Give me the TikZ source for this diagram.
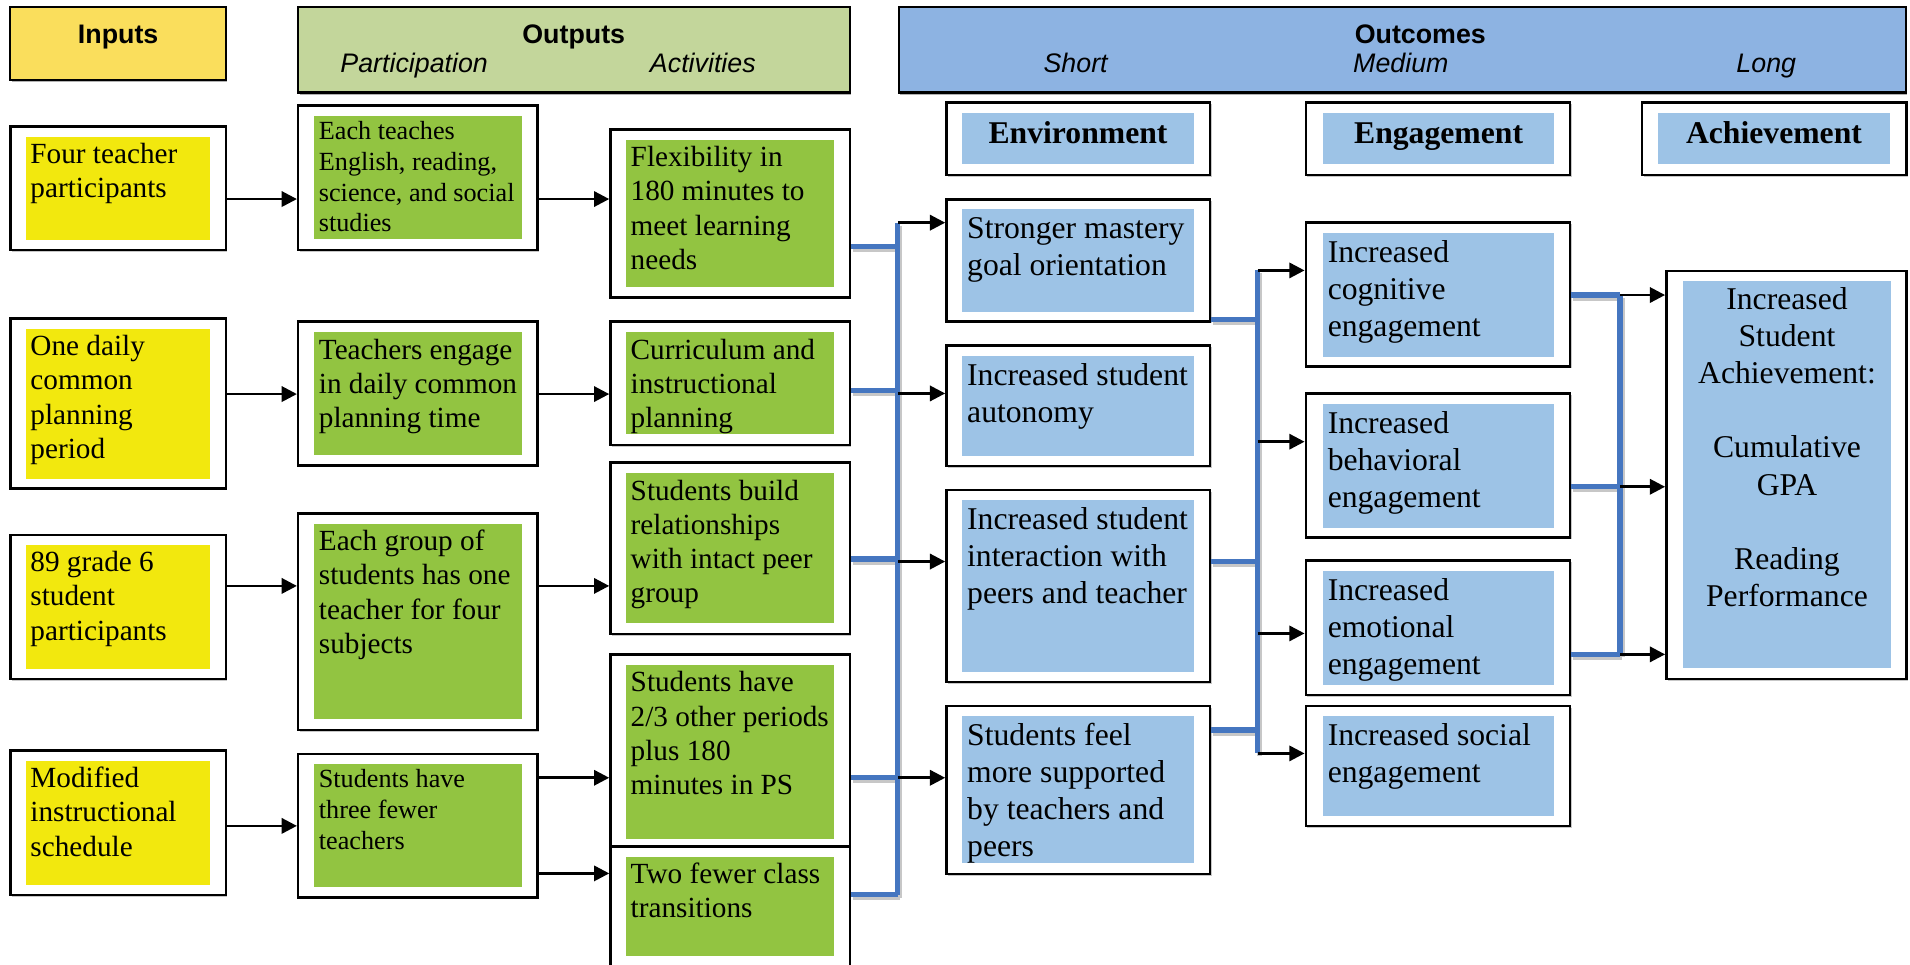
\documentclass[tikz,border=0pt]{standalone}
\usepackage{fontspec}
\setmainfont{Liberation Serif}
\setsansfont{Liberation Sans}
\usetikzlibrary{arrows.meta,calc,shadows}
\definecolor{hyel}{HTML}{FADE5C}
\definecolor{hgrn}{HTML}{C3D69B}
\definecolor{hblu}{HTML}{8DB3E2}
\definecolor{iyel}{HTML}{F2E80E}
\definecolor{igrn}{HTML}{92C441}
\definecolor{iblu}{HTML}{9DC3E6}
\definecolor{busc}{HTML}{4576C0}
\newcommand\obox[6][outerbox]{\node[#1, minimum width={(#5-#3)*1pt}, minimum height={(#6-#4)*1pt}] (#2) at ({(#3+#5)/2},{(#4+#6)/2}) {};}
\newcommand\btxt[5]{\node[#1, anchor=north west] (#2) at (#3,#4) {\strut#5};}
\newcommand\buspaths[1]{%
  \draw[#1] (a1.east |- 0,202.5) -- (bA |- 0,202.5);
  \draw[#1] (a2.east |- 0,320.7) -- (bA |- 0,320.7);
  \draw[#1] (a3.east |- 0,459) -- (bA |- 0,459);
  \draw[#1] (a4.east |- 0,638.5) -- (bA |- 0,638.5);
  \draw[#1] (a5.east |- 0,734.5) -- (bB);
  \draw[#1] (bA) -- (bB);
  \draw[#1] (e1.east |- 0,262.2) -- (cA |- 0,262.2);
  \draw[#1] (e3.east |- 0,461) -- (cA |- 0,461);
  \draw[#1] (e4.east |- 0,599.4) -- (cA |- 0,599.4);
  \draw[#1] (cA) -- (cB);
  \draw[#1] (g1.east |- dA) -- (dA);
  \draw[#1] (g2.east |- 0,399.6) -- (dA |- 0,399.6);
  \draw[#1] (g3.east |- dB) -- (dB);
  \draw[#1] (dA) -- (dB);
}
\tikzset{
  outerbox/.style={draw=black, line width=2.1pt, fill=white, inner sep=0pt,
    drop shadow={shadow xshift=1.2pt, shadow yshift=-1.4pt, fill=black!22, opacity=1}},
  headbox/.style={draw=black, line width=1.8pt, fill=#1, inner sep=0pt,
    drop shadow={shadow xshift=1.2pt, shadow yshift=-1.8pt, fill=black!30, opacity=1}},
  inbox/.style={fill=#1, draw=none, inner sep=0pt, outer sep=0pt},
  tgreen/.style={font=\fontsize{24}{28}\selectfont, align=left, inner sep=0pt},
  tsmall/.style={font=\fontsize{21.5}{25.2}\selectfont, align=left, inner sep=0pt},
  tblue/.style={font=\fontsize{26}{30.5}\selectfont, align=left, inner sep=0pt},
  thead/.style={font=\fontsize{26}{30}\selectfont\bfseries, inner sep=0pt, anchor=base},
  tsans/.style={font=\sffamily\fontsize{22}{26}\selectfont, inner sep=0pt, anchor=base},
  arr/.style={draw=black, line width=2.2pt, -{Triangle[length=12.5pt,width=12.5pt]}},
  bus/.style={draw=busc, line width=4.4pt},
  busshadow/.style={draw=black!22, line width=4.4pt},
}
\begin{document}
\begin{tikzpicture}[x=1pt,y=-1pt]
\useasboundingbox[fill=white] (0,0) rectangle (1568,792);

% ---------- header bars ----------
\obox[headbox=hyel]{hin}{8.5}{5.5}{185.5}{65.7}
\obox[headbox=hgrn]{hout}{244.8}{5.5}{697.8}{76}
\obox[headbox=hblu]{hoc}{738}{5.5}{1564.5}{76}
\node[tsans, font=\sffamily\bfseries\fontsize{22}{26}\selectfont] (tin) at (97,35.5) {Inputs};
\node[tsans, font=\sffamily\bfseries\fontsize{22}{26}\selectfont] (tout) at (471,35.5) {Outputs};
\node[tsans, font=\sffamily\itshape\fontsize{22}{26}\selectfont] (tpart) at (340,59.5) {Participation};
\node[tsans, font=\sffamily\itshape\fontsize{22}{26}\selectfont] (tact) at (577,59.5) {Activities};
\node[tsans, font=\sffamily\bfseries\fontsize{22}{26}\selectfont] (toc) at (1166,35.5) {Outcomes};
\node[tsans, font=\sffamily\itshape\fontsize{22}{26}\selectfont] (tshort) at (883,59.5) {Short};
\node[tsans, font=\sffamily\itshape\fontsize{22}{26}\selectfont] (tmed) at (1150,59.5) {Medium};
\node[tsans, font=\sffamily\itshape\fontsize{22}{26}\selectfont] (tlong) at (1450,59.5) {Long};

% ---------- inputs ----------
\obox{in1}{8.5}{104}{185.5}{205.3}
\obox[inbox=iyel]{in1i}{21}{112.2}{172}{197}
\obox{in2}{8.5}{261.3}{185.5}{401}
\obox[inbox=iyel]{in2i}{21}{270.1}{172}{393}
\obox{in3}{8.5}{439.2}{185.5}{557.5}
\obox[inbox=iyel]{in3i}{21}{447.4}{172}{549.3}
\obox{in4}{8.5}{616.3}{185.5}{734.8}
\obox[inbox=iyel]{in4i}{21}{624.8}{172}{726.6}
\btxt{tgreen}{in1t}{24.8}{114.4}{Four teacher\\participants}
\btxt{tgreen}{in2t}{24.8}{272.3}{One daily\\common\\planning\\period}
\btxt{tgreen}{in3t}{24.8}{449.6}{89 grade 6\\student\\participants}
\btxt{tgreen}{in4t}{24.8}{627}{Modified\\instructional\\schedule}

% ---------- participation ----------
\obox{p1}{244.8}{86.8}{441.4}{205.3}
\obox[inbox=igrn]{p1i}{257.8}{95.2}{428.9}{196}
\obox{p2}{244.8}{264}{441.4}{382.3}
\obox[inbox=igrn]{p2i}{257.8}{272.8}{428.9}{373.5}
\obox{p3}{244.8}{421.4}{441.4}{599.3}
\obox[inbox=igrn]{p3i}{257.8}{430.2}{428.9}{590}
\obox{p4}{244.8}{619}{441.4}{737}
\obox[inbox=igrn]{p4i}{257.8}{627.2}{428.9}{728}
\btxt{tsmall}{p1t}{261.6}{96.8}{Each teaches\\English, reading,\\science, and social\\studies}
\btxt{tgreen}{p2t}{261.6}{275}{Teachers engage\\in daily common\\planning time}
\btxt{tgreen}{p3t}{261.6}{432.4}{Each group of\\students has one\\teacher for four\\subjects}
\btxt{tsmall}{p4t}{261.6}{628.8}{Students have\\three fewer\\teachers}

% ---------- activities ----------
\obox{a1}{501.2}{106.2}{697.8}{244.4}
\obox[inbox=igrn]{a1i}{513.8}{115}{684.7}{235.4}
\obox{a2}{501.2}{264}{697.8}{365.3}
\obox[inbox=igrn]{a2i}{513.8}{272.8}{684.7}{356.3}
\obox{a3}{501.2}{379.9}{697.8}{520.5}
\obox[inbox=igrn]{a3i}{513.8}{388.6}{684.7}{511.2}
\obox{a4}{501.2}{537.2}{697.8}{695}
\obox[inbox=igrn]{a4i}{513.8}{546}{684.7}{688.6}
\obox{a5}{501.2}{695}{697.8}{805}
\obox[inbox=igrn]{a5i}{513.8}{703.6}{684.7}{784.6}
\btxt{tgreen}{a1t}{517.6}{117.2}{Flexibility in\\180 minutes to\\meet learning\\needs}
\btxt{tgreen}{a2t}{517.6}{275}{Curriculum and\\instructional\\planning}
\btxt{tgreen}{a3t}{517.6}{390.8}{Students build\\relationships\\with intact peer\\group}
\btxt{tgreen}{a4t}{517.6}{548.2}{Students have\\2/3 other periods\\plus 180\\minutes in PS}
\btxt{tgreen}{a5t}{517.6}{705.8}{Two fewer class\\transitions}

% ---------- environment ----------
\obox{eh}{777}{84.3}{993.5}{143.7}
\obox[inbox=iblu]{ehi}{790}{93}{980}{134.6}
\node[thead] (eht) at (885,117.7) {Environment};
\obox{e1}{777}{163.7}{993.5}{264}
\obox[inbox=iblu]{e1i}{790}{171.9}{980}{255.9}
\obox{e2}{777}{283.8}{993.5}{382.6}
\obox[inbox=iblu]{e2i}{790}{292.3}{980}{374.4}
\obox{e3}{777}{402.3}{993.5}{560}
\obox[inbox=iblu]{e3i}{790}{410.5}{980}{551.4}
\obox{e4}{777}{579.6}{993.5}{717.5}
\obox[inbox=iblu]{e4i}{790}{587.8}{980}{708.8}
\btxt{tblue}{e1t}{793.8}{174.4}{Stronger mastery\\goal orientation}
\btxt{tblue}{e2t}{793.8}{294.8}{Increased student\\autonomy}
\btxt{tblue}{e3t}{793.8}{413}{Increased student\\interaction with\\peers and teacher}
\btxt{tblue}{e4t}{793.8}{590.3}{Students feel\\more supported\\by teachers and\\peers}

% ---------- engagement ----------
\obox{gh}{1072}{84.3}{1289}{143.7}
\obox[inbox=iblu]{ghi}{1086}{93}{1276}{134.6}
\node[thead] (ght) at (1181,117.7) {Engagement};
\obox{g1}{1072}{182.8}{1289}{301}
\obox[inbox=iblu]{g1i}{1086}{191.5}{1276}{292.8}
\obox{g2}{1072}{323}{1289}{441.4}
\obox[inbox=iblu]{g2i}{1086}{331.7}{1276}{433.2}
\obox{g3}{1072}{460.3}{1289}{570.6}
\obox[inbox=iblu]{g3i}{1086}{468.8}{1276}{562}
\obox{g4}{1072}{579.6}{1289}{678.2}
\obox[inbox=iblu]{g4i}{1086}{587.8}{1276}{669.7}
\btxt{tblue}{g1t}{1089.8}{194}{Increased\\cognitive\\engagement}
\btxt{tblue}{g2t}{1089.8}{334.2}{Increased\\behavioral\\engagement}
\btxt{tblue}{g3t}{1089.8}{471.3}{Increased\\emotional\\engagement}
\btxt{tblue}{g4t}{1089.8}{590.3}{Increased social\\engagement}

% ---------- achievement ----------
\obox{ah}{1348}{84.3}{1565}{143.7}
\obox[inbox=iblu]{ahi}{1361.2}{93}{1551.4}{134.6}
\node[thead] (aht) at (1456.3,117.7) {Achievement};
\obox{ach}{1368}{222.5}{1565}{557.5}
\obox[inbox=iblu]{achi}{1382}{230.7}{1552}{548.7}
\node[font=\fontsize{26}{30.5}\selectfont, align=center, inner sep=0pt, anchor=north] (acht) at (1467,232.4)
  {\strut Increased\\Student\\Achievement:\\[30.5pt]Cumulative\\GPA\\[30.5pt]Reading\\Performance};

% ---------- bus coordinates ----------
\coordinate (bA) at (737,182.8);
\coordinate (bB) at (737,734.5);
\coordinate (cA) at (1032.5,222);
\coordinate (cB) at (1032.5,618.5);
\coordinate (dA) at (1330,242.2);
\coordinate (dB) at (1330,537.2);

% ---------- blue buses (shadow, then line) ----------
\begin{scope}[transform canvas={shift={(1.5,2.5)}}]
  \buspaths{busshadow}
\end{scope}
\buspaths{bus}

% ---------- black arrows ----------
\draw[arr] (in1.east |- 0,163.4) -- (p1.west |- 0,163.4);
\draw[arr] (p1.east |- 0,163.4) -- (a1.west |- 0,163.4);
\draw[arr] (in2.east |- 0,323.5) -- (p2.west |- 0,323.5);
\draw[arr] (p2.east |- 0,323.5) -- (a2.west |- 0,323.5);
\draw[arr] (in3.east |- 0,481) -- (p3.west |- 0,481);
\draw[arr] (p3.east |- 0,481) -- (a3.west |- 0,481);
\draw[arr] (in4.east |- 0,678) -- (p4.west |- 0,678);
\draw[arr] (p4.east |- 0,638.5) -- (a4.west |- 0,638.5);
\draw[arr] (p4.east |- 0,717) -- (a5.west |- 0,717);

\draw[arr] (bA) -- (e1.west |- bA);
\draw[arr] (bA |- 0,323) -- (e2.west |- 0,323);
\draw[arr] (bA |- 0,461) -- (e3.west |- 0,461);
\draw[arr] (bA |- 0,638.5) -- (e4.west |- 0,638.5);

\draw[arr] (cA) -- (g1.west |- cA);
\draw[arr] (cA |- 0,362.6) -- (g2.west |- 0,362.6);
\draw[arr] (cA |- 0,520) -- (g3.west |- 0,520);
\draw[arr] (cB) -- (g4.west |- cB);

\draw[arr] (dA) -- (ach.west |- dA);
\draw[arr] (dA |- 0,399.6) -- (ach.west |- 0,399.6);
\draw[arr] (dB) -- (ach.west |- dB);
\end{tikzpicture}
\end{document}
